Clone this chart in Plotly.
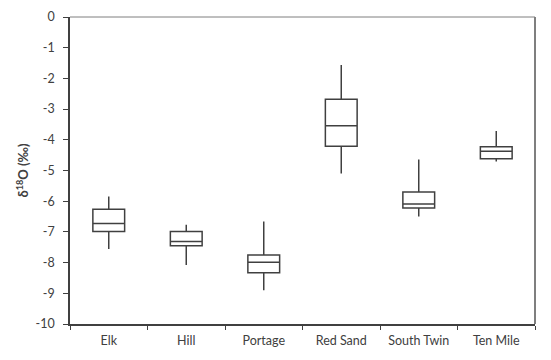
import plotly.graph_objects as go

categories = ["Elk", "Hill", "Portage", "Red Sand", "South Twin", "Ten Mile"]
upper_whisker = [-5.85, -6.77, -6.66, -1.56, -4.64, -3.71]
q3_values = [-6.26, -6.99, -7.75, -2.68, -5.70, -4.23]
median_values = [-6.73, -7.31, -7.99, -3.54, -6.09, -4.37]
q1_values = [-6.99, -7.45, -8.33, -4.21, -6.22, -4.62]
lower_whisker = [-7.56, -8.08, -8.90, -5.10, -6.50, -4.71]
y_ticks = list(range(-10, 1))

fig = go.Figure()
fig.add_trace(go.Box(
    x=categories,
    q1=q1_values,
    median=median_values,
    q3=q3_values,
    lowerfence=lower_whisker,
    upperfence=upper_whisker,
    fillcolor="white",
    line=dict(color="#404040", width=1.5),
    whiskerwidth=0,
    width=0.41,
    boxpoints=False,
    showlegend=False,
    hoverinfo="skip",
))

font_family = "Lato, Open Sans, sans-serif"

fig.update_layout(
    width=551, height=360,
    margin=dict(l=70, r=16, t=17, b=36, autoexpand=False),
    paper_bgcolor="white",
    plot_bgcolor="white",
    font=dict(family=font_family, size=12, color="#404040"),
    xaxis=dict(
        type="category",
        categoryorder="array",
        categoryarray=categories,
        range=[-0.5, 5.5],
        showline=True, linecolor="#404040", linewidth=1.5,
        ticks="outside", tickson="boundaries", ticklen=4, tickcolor="#404040",
        ticklabelstandoff=4,
        showgrid=False, zeroline=False, automargin=False,
        tickfont=dict(size=12.5, color="#404040"),
    ),
    yaxis=dict(
        range=[-10, 0],
        tickvals=y_ticks,
        ticktext=[str(v) for v in y_ticks],
        showline=True, linecolor="#404040", linewidth=1.5,
        ticks="outside", ticklen=5, tickcolor="#404040",
        ticklabelstandoff=6,
        showgrid=False, zeroline=False, automargin=False,
        tickfont=dict(size=12.5, color="#404040"),
        title=dict(text="<b>δ<sup>18</sup>O (‰)</b>", font=dict(size=13, color="#404040"), standoff=4),
    ),
    shapes=[
        dict(type="line", xref="paper", yref="paper", x0=0, x1=1, y0=1, y1=1,
             line=dict(color="#7f7f7f", width=1)),
        dict(type="line", xref="paper", yref="paper", x0=1, x1=1, y0=0, y1=1,
             line=dict(color="#7f7f7f", width=2)),
    ],
)

fig.write_html("out.html", config={"displayModeBar": False},
               post_script="document.body.style.margin='0';document.body.style.padding='0';")
